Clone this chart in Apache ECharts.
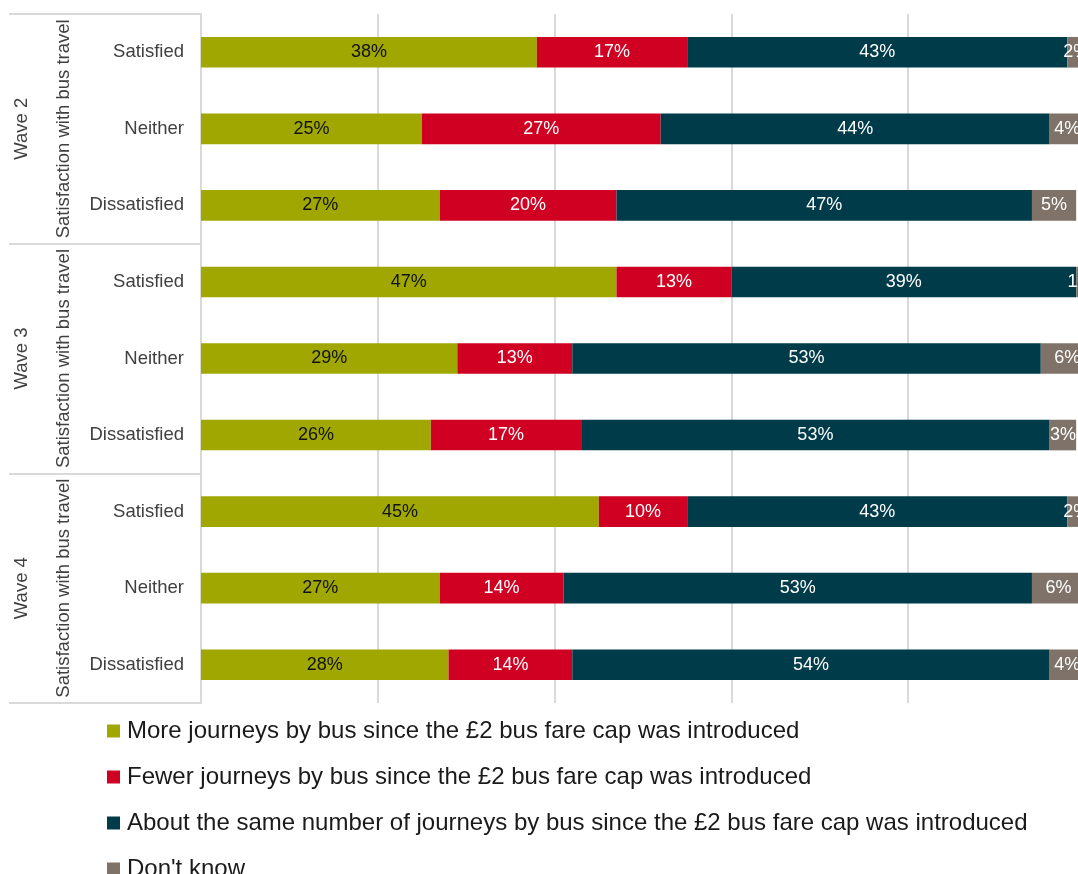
<!DOCTYPE html>
<html>
<head>
<meta charset="utf-8">
<script src="https://cdn.jsdelivr.net/npm/echarts@6/dist/echarts.min.js"></script>
<style>
  html, body { margin: 0; padding: 0; background: #fff; }
  #chart { width: 1078px; height: 874px; }
</style>
</head>
<body>
<div id="chart"></div>
<script>
// Bus journeys since the £2 fare cap, by satisfaction with bus travel and survey wave
const categories = [
  'Satisfied', 'Neither', 'Dissatisfied',
  'Satisfied', 'Neither', 'Dissatisfied',
  'Satisfied', 'Neither', 'Dissatisfied'
];
const waves = ['Wave 2', 'Wave 3', 'Wave 4'];
const groupTitles = ['Satisfaction with bus travel', 'Satisfaction with bus travel', 'Satisfaction with bus travel'];

const seriesNames = [
  'More journeys by bus since the £2 bus fare cap was introduced',
  'Fewer journeys by bus since the £2 bus fare cap was introduced',
  'About the same number of journeys by bus since the £2 bus fare cap was introduced',
  "Don't know"
];
const moreJourneys  = [38, 25, 27, 47, 29, 26, 45, 27, 28];
const fewerJourneys = [17, 27, 20, 13, 13, 17, 10, 14, 14];
const sameJourneys  = [43, 44, 47, 39, 53, 53, 43, 53, 54];
const dontKnow      = [2, 4, 5, 1, 6, 3, 2, 6, 4];

const xTicks = [0, 20, 40, 60, 80, 100];

const colors = ['#9fa700', '#cf0021', '#003b4a', '#7f7369'];
const labelColors = ['#111111', '#ffffff', '#ffffff', '#ffffff'];
const FONT = "'Liberation Sans', Arial, sans-serif";
const GRID_LINE = '#d9d9d9';
const AXIS_TEXT = '#404040';

const chart = echarts.init(document.getElementById('chart'));

const seriesData = [moreJourneys, fewerJourneys, sameJourneys, dontKnow];

const series = seriesData.map((values, i) => ({
  name: seriesNames[i],
  type: 'bar',
  stack: 'total',
  yAxisIndex: 0,
  barWidth: '40%',
  clip: false,
  itemStyle: { color: colors[i] },
  label: {
    show: true,
    position: 'inside',
    formatter: p => p.value + '%',
    color: labelColors[i],
    fontFamily: FONT,
    fontSize: 18
  },
  emphasis: { disabled: true },
  data: values
}));

chart.setOption({
  animation: false,
  textStyle: { fontFamily: FONT },
  // the 100% end of the value axis sits just past the right edge of the canvas
  grid: {
    left: 201, width: 884, top: 14, bottom: 171,
    containLabel: false,
    outerBoundsMode: 'none'
  },
  legend: {
    orient: 'vertical',
    left: 102,
    top: 714,
    height: 200,
    itemWidth: 13,
    itemHeight: 13,
    itemGap: 22,
    icon: 'rect',
    selectedMode: false,
    textStyle: { fontFamily: FONT, fontSize: 24, color: '#1a1a1a', padding: [0, 0, 0, 2] },
    data: seriesNames
  },
  xAxis: {
    type: 'value',
    min: xTicks[0],
    max: xTicks[xTicks.length - 1],
    interval: xTicks[1] - xTicks[0],
    axisLabel: { show: false },
    axisLine: { show: false },
    axisTick: { show: false },
    splitLine: { show: true, lineStyle: { color: GRID_LINE, width: 2 } }
  },
  yAxis: [
    {
      type: 'category',
      inverse: true,
      data: categories,
      axisLine: { show: true, lineStyle: { color: GRID_LINE, width: 2 } },
      axisTick: { show: false },
      axisLabel: { interval: 0, margin: 17, fontSize: 18.5, color: AXIS_TEXT, fontFamily: FONT }
    },
    {
      type: 'category',
      inverse: true,
      position: 'left',
      data: waves,
      axisLine: { show: false },
      axisTick: { show: true, length: 192, lineStyle: { color: GRID_LINE, width: 2 } },
      axisLabel: { interval: 0, rotate: 90, margin: 170, fontSize: 18.5, color: AXIS_TEXT, fontFamily: FONT }
    },
    {
      type: 'category',
      inverse: true,
      position: 'left',
      data: groupTitles,
      axisLine: { show: false },
      axisTick: { show: false },
      axisLabel: { interval: 0, hideOverlap: false, rotate: 90, margin: 128, fontSize: 18.5, color: AXIS_TEXT, fontFamily: FONT }
    }
  ],
  series: series
});
</script>
</body>
</html>
